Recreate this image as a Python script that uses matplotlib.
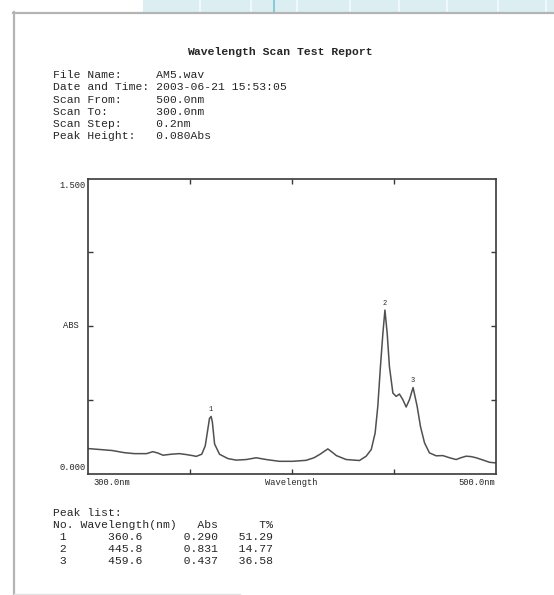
import matplotlib
matplotlib.use("Agg")
import matplotlib.pyplot as plt
from matplotlib.patches import Rectangle
from matplotlib.lines import Line2D
from matplotlib.ticker import FixedLocator

# ---------------- data ----------------
title = "Wavelength Scan Test Report"
header_keys = ["File Name:", "Date and Time:", "Scan From:", "Scan To:", "Scan Step:", "Peak Height:"]
header_values = ["AM5.wav", "2003-06-21 15:53:05", "500.0nm", "300.0nm", "0.2nm", "0.080Abs"]

wavelength = [300.0, 306.0, 312.0, 318.0, 323.0, 329.0, 332.0, 334.5, 337.0, 341.0,
              345.0, 348.0, 351.5, 353.3, 356.0, 357.7, 358.7, 359.8, 360.6, 361.2,
              362.3, 364.7, 368.8, 372.9, 377.8, 382.7, 387.6, 394.0, 400.6, 407.2,
              411.0, 414.0, 417.8, 420.0, 422.0, 426.8, 433.3, 436.6, 439.1, 441.0,
              442.3, 443.6, 444.8, 445.8, 446.9, 448.0, 449.7, 451.3, 452.9, 454.6,
              456.2, 457.8, 459.6, 461.6, 463.2, 465.2, 467.6, 470.9, 474.2, 477.5,
              480.7, 483.0, 485.6, 488.0, 490.5, 494.0, 497.1, 500.0]
absorbance = [0.127, 0.122, 0.117, 0.106, 0.101, 0.101, 0.111, 0.104, 0.093, 0.098,
              0.101, 0.097, 0.091, 0.087, 0.098, 0.140, 0.206, 0.280, 0.290, 0.262,
              0.150, 0.098, 0.076, 0.068, 0.071, 0.080, 0.071, 0.062, 0.062, 0.067,
              0.080, 0.098, 0.125, 0.108, 0.091, 0.071, 0.066, 0.088, 0.122, 0.206,
              0.341, 0.544, 0.713, 0.831, 0.713, 0.544, 0.409, 0.392, 0.404, 0.375,
              0.338, 0.375, 0.437, 0.341, 0.240, 0.156, 0.105, 0.090, 0.091, 0.080,
              0.071, 0.080, 0.088, 0.086, 0.080, 0.068, 0.057, 0.054]

peak_no = [1, 2, 3]
peak_wl = [360.6, 445.8, 459.6]
peak_abs = [0.290, 0.831, 0.437]
peak_t = [51.29, 14.77, 36.58]

x_range = [300.0, 500.0]
y_range = [0.0, 1.5]
y_ticks = [0.375, 0.75, 1.125]
x_ticks = [350, 400, 450]
x_label = "Wavelength"
y_label = "ABS"

# ---------------- figure ----------------
W, H = 554, 595
fig = plt.figure(figsize=(W / 100, H / 100), dpi=100)
fig.patch.set_facecolor("white")

def fx(px):
    return px / W

def fy(py):
    return 1 - py / H

MONO = "Liberation Mono"
TXT = "#262626"

# page decoration (scan frame)
fig.patches.append(Rectangle((fx(143), fy(11.5)), fx(554) - fx(143), 11.5 / H,
                             transform=fig.transFigure, facecolor="#dbeff3",
                             edgecolor="none", zorder=0))
for dx in [200, 251, 297, 350, 399, 447, 498, 546]:
    fig.lines.append(Line2D([fx(dx), fx(dx)], [fy(0), fy(11.5)], transform=fig.transFigure,
                            color="#f4fbfc", lw=1.2))
fig.lines.append(Line2D([fx(274), fx(274)], [fy(0), fy(11.5)], transform=fig.transFigure,
                        color="#8ccbd3", lw=1.5))
fig.lines.append(Line2D([fx(13), fx(554)], [fy(12.5), fy(12.5)], transform=fig.transFigure,
                        color="#b4b4b4", lw=1.6))
fig.lines.append(Line2D([fx(13.5), fx(13.5)], [fy(12), fy(595)], transform=fig.transFigure,
                        color="#b4b4b4", lw=1.6))
fig.lines.append(Line2D([fx(14), fx(240)], [fy(593.5), fy(593.5)], transform=fig.transFigure,
                        color="#e2e2e2", lw=1.0))

# title and header block
fig.text(fx(280), fy(52), title, family=MONO, fontsize=8.2, weight="bold",
         color=TXT, ha="center", va="center")
for i, (k, v) in enumerate(zip(header_keys, header_values)):
    fig.text(fx(53), fy(75.3 + 12.2 * i), k.ljust(15) + v, family=MONO, fontsize=8.2,
             color=TXT, ha="left", va="center")

# ---------------- chart ----------------
ax = fig.add_axes([fx(87.5), fy(473.5), 408 / W, 295 / H])
ax.plot(wavelength, absorbance, color="#505050", lw=1.1)
ax.set_xlim(*x_range)
ax.set_ylim(*y_range)
for s in ax.spines.values():
    s.set_linewidth(1.2)
    s.set_color("#3a3a3a")

ax.xaxis.set_major_locator(FixedLocator(x_ticks))
ax.yaxis.set_major_locator(FixedLocator(y_ticks))
ax.xaxis.set_minor_locator(FixedLocator([400]))
ax.yaxis.set_minor_locator(FixedLocator([0.75]))
ax.tick_params(which="major", direction="in", length=3.6, width=1.0, color="#3a3a3a",
               top=True, right=True, bottom=True, left=True,
               labelbottom=False, labelleft=False)
ax.tick_params(axis="x", which="minor", direction="in", length=8.5, width=1.0,
               color="#3a3a3a", top=False, bottom=True)
ax.tick_params(axis="y", which="minor", direction="inout", length=14, width=1.0,
               color="#3a3a3a", left=True, right=False)

# axis texts
lab_fs = 6.3
ax.annotate(f"{y_range[1]:.3f}", (x_range[0], y_range[1]), xytext=(-1, -2),
            textcoords="offset points", ha="right", va="top", family=MONO,
            fontsize=lab_fs, color=TXT, annotation_clip=False)
ax.annotate(f"{y_range[0]:.3f}", (x_range[0], y_range[0]), xytext=(-1, 1),
            textcoords="offset points", ha="right", va="bottom", family=MONO,
            fontsize=lab_fs, color=TXT, annotation_clip=False)
ax.annotate(y_label, (x_range[0], 0.75), xytext=(-6, 0),
            textcoords="offset points", ha="right", va="center", family=MONO,
            fontsize=lab_fs, color=TXT, annotation_clip=False)
ax.annotate(f"{x_range[0]:.1f}nm", (x_range[0], 0), xytext=(4, -3),
            textcoords="offset points", ha="left", va="top", family=MONO,
            fontsize=lab_fs, color=TXT, annotation_clip=False)
ax.annotate(f"{x_range[1]:.1f}nm", (x_range[1], 0), xytext=(0, -3),
            textcoords="offset points", ha="right", va="top", family=MONO,
            fontsize=lab_fs, color=TXT, annotation_clip=False)
ax.annotate(x_label, (sum(x_range) / 2, 0), xytext=(0, -3),
            textcoords="offset points", ha="center", va="top", family=MONO,
            fontsize=lab_fs, color=TXT, annotation_clip=False)

for n, w, a in zip(peak_no, peak_wl, peak_abs):
    ax.annotate(str(n), (w, a), xytext=(0, 2.5), textcoords="offset points",
                ha="center", va="bottom", family=MONO, fontsize=5, color=TXT)

# ---------------- peak list ----------------
rows = ["Peak list:", "No. Wavelength(nm)   Abs      T%"]
for n, w, a, t in zip(peak_no, peak_wl, peak_abs, peak_t):
    rows.append(f"{n:>2}{w:>11.1f}{a:>11.3f}{t:>8.2f}")
for i, r in enumerate(rows):
    fig.text(fx(53), fy(512.9 + 12.1 * i), r, family=MONO, fontsize=8.2,
             color=TXT, ha="left", va="center")

fig.savefig("out.png", dpi=100)
